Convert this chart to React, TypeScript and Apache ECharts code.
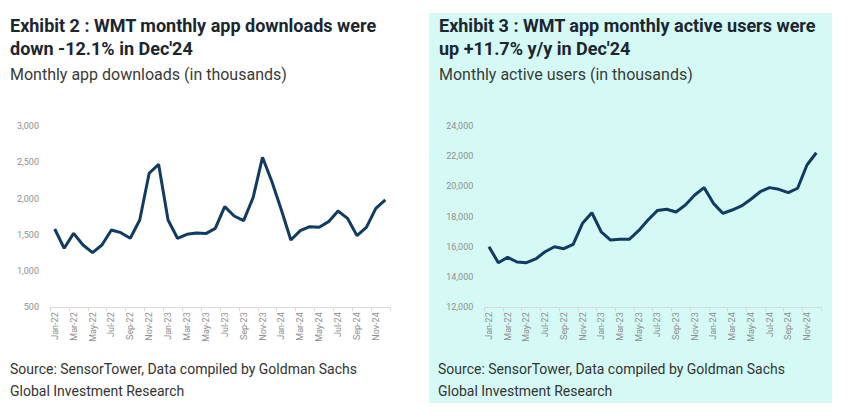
import React, { useEffect, useRef } from "react";
import * as echarts from "echarts";

const months = [
  "Jan-22", "Feb-22", "Mar-22", "Apr-22", "May-22", "Jun-22", "Jul-22", "Aug-22", "Sep-22", "Oct-22", "Nov-22", "Dec-22",
  "Jan-23", "Feb-23", "Mar-23", "Apr-23", "May-23", "Jun-23", "Jul-23", "Aug-23", "Sep-23", "Oct-23", "Nov-23", "Dec-23",
  "Jan-24", "Feb-24", "Mar-24", "Apr-24", "May-24", "Jun-24", "Jul-24", "Aug-24", "Sep-24", "Oct-24", "Nov-24", "Dec-24",
];

const downloads = [
  1580, 1314, 1520, 1359, 1254, 1359, 1566, 1529, 1452, 1704, 2348, 2472,
  1704, 1452, 1507, 1525, 1516, 1589, 1888, 1759, 1695, 2010, 2568, 2232,
  1842, 1428, 1557, 1612, 1603, 1681, 1828, 1727, 1488, 1603, 1865, 1980,
];

const activeUsers = [
  16010, 14950, 15310, 15000, 14950, 15200, 15680, 16010, 15880, 16170, 17560, 18260,
  17000, 16450, 16500, 16500, 17070, 17780, 18400, 18490, 18310, 18770, 19430, 19920,
  18880, 18220, 18440, 18710, 19150, 19650, 19920, 19810, 19590, 19880, 21420, 22230,
];

const leftAxis = { min: 500, max: 3000, interval: 500 };
const rightAxis = { min: 12000, max: 24000, interval: 2000 };

const leftTitle = ["Exhibit 2 : WMT monthly app downloads were", "down -12.1% in Dec'24"];
const leftSubtitle = "Monthly app downloads (in thousands)";
const rightTitle = ["Exhibit 3 : WMT app monthly active users were", "up +11.7% y/y in Dec'24"];
const rightSubtitle = "Monthly active users (in thousands)";
const sourceLines = ["Source: SensorTower, Data compiled by Goldman Sachs", "Global Investment Research"];

const FONT = "Roboto";
const LINE = "#113b60";

function fmt(v: number) {
  return v.toLocaleString("en-US");
}

function xAxisCfg(gridIndex: number) {
  return {
    type: "category",
    gridIndex,
    data: months,
    boundaryGap: true,
    axisLine: { show: true, lineStyle: { color: "#d9d9d9", width: 1 } },
    axisTick: { show: true, interval: 1, length: 4, lineStyle: { color: "#d9d9d9" } },
    axisLabel: {
      interval: 1,
      rotate: 90,
      fontSize: 9,
      color: "#8f8f8f",
      fontFamily: FONT,
      margin: 5,
    },
    splitLine: { show: false },
  };
}

function yAxisCfg(gridIndex: number, a: { min: number; max: number; interval: number }) {
  return {
    type: "value",
    gridIndex,
    min: a.min,
    max: a.max,
    interval: a.interval,
    axisLine: { show: false },
    axisTick: { show: false },
    splitLine: { show: false },
    axisLabel: {
      fontSize: 9,
      color: "#8f8f8f",
      fontFamily: FONT,
      margin: 11,
      formatter: (v: number) => fmt(v),
    },
  };
}

function textEl(x: number, y: number, text: string, size: number, weight: string, color: string) {
  return {
    type: "text",
    x,
    y,
    style: {
      text,
      fontSize: size,
      fontWeight: weight,
      fontFamily: FONT,
      fill: color,
      textVerticalAlign: "middle",
      verticalAlign: "middle",
    },
  };
}

export default function App() {
  const ref = useRef<HTMLDivElement>(null);
  useEffect(() => {
    if (!ref.current) return;
    const chart = echarts.init(ref.current, undefined, { renderer: "svg" });
    chart.setOption({
      animation: false,
      backgroundColor: "#ffffff",
      graphic: [
        {
          type: "rect",
          z: -10,
          shape: { x: 429, y: 13, width: 403, height: 390 },
          style: { fill: "#d5faf6" },
        },
        textEl(10, 25, leftTitle[0], 18, "bold", "#1b2631"),
        textEl(10, 48, leftTitle[1], 18, "bold", "#1b2631"),
        textEl(10, 74, leftSubtitle, 16, "normal", "#3a3a3a"),
        textEl(439, 25, rightTitle[0], 18, "bold", "#1b2631"),
        textEl(439, 48, rightTitle[1], 18, "bold", "#1b2631"),
        textEl(439, 74, rightSubtitle, 16, "normal", "#3a3a3a"),
        textEl(10, 369, sourceLines[0], 14, "normal", "#333333"),
        textEl(10, 391, sourceLines[1], 14, "normal", "#333333"),
        textEl(438, 369, sourceLines[0], 14, "normal", "#333333"),
        textEl(438, 391, sourceLines[1], 14, "normal", "#333333"),
      ],
      grid: [
        { left: 50, right: 458, top: 126, bottom: 110.7 },
        { left: 484.3, right: 27, top: 126, bottom: 110.7 },
      ],
      xAxis: [xAxisCfg(0), xAxisCfg(1)],
      yAxis: [yAxisCfg(0, leftAxis), yAxisCfg(1, rightAxis)],
      series: [
        {
          type: "line",
          xAxisIndex: 0,
          yAxisIndex: 0,
          data: downloads,
          showSymbol: false,
          lineStyle: { color: LINE, width: 3 },
        },
        {
          type: "line",
          xAxisIndex: 1,
          yAxisIndex: 1,
          data: activeUsers,
          showSymbol: false,
          lineStyle: { color: LINE, width: 3 },
        },
      ],
    });
    return () => chart.dispose();
  }, []);
  return (
    <div
      ref={ref}
      style={{ position: "absolute", left: 0, top: 0, width: 848, height: 418 }}
    />
  );
}
